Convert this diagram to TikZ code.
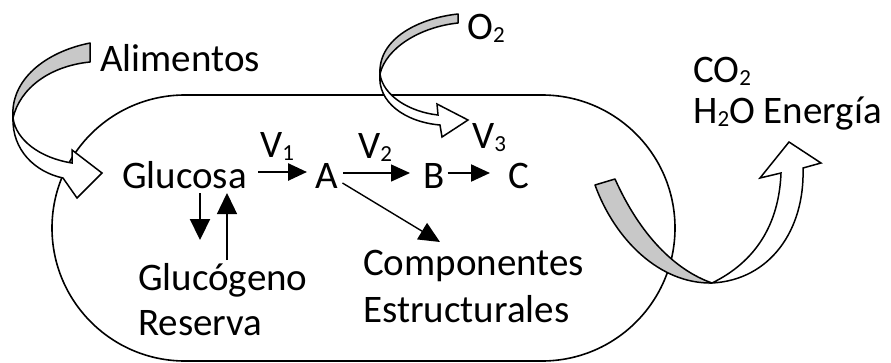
\documentclass[tikz,border=0pt]{standalone}
\usepackage{fontspec}
\setmainfont{Carlito}
\usetikzlibrary{arrows.meta,calc,shapes.misc}
\definecolor{band}{RGB}{200,200,200}
\newcommand\subdig[1]{\raisebox{-3.5pt}{\fontsize{23}{23}\selectfont #1}}
\tikzset{
  lbl/.style={anchor=base west,inner sep=0pt,font=\fontsize{39}{47}\selectfont},
  thinarr/.style={line width=1.4pt,-{Triangle[length=19pt,width=17pt]}},
  thickarr/.style={line width=2.6pt,-{Triangle[length=19pt,width=17pt]}},
  vertarr/.style={-{Triangle[length=21pt,width=20pt]}},
  back/.style={fill=band,draw=black,line width=1.5pt,line join=round},
  front/.style={fill=white,draw=black,line width=1.5pt,line join=miter},
}
\begin{document}
\begin{tikzpicture}[x=1pt,y=-1pt]
\useasboundingbox (0,0) rectangle (891,362);
% cell outline
\node[draw,rounded rectangle,minimum width=623pt,minimum height=266pt,inner sep=0pt,line width=1.6pt] (cell) at (363.5,228) {};

% Alimentos block arrow
\draw[back] (90,43) .. controls (45,52) and (10,80) .. (13,118)
  .. controls (20,88) and (50,66) .. (90,62) -- cycle;
\draw[front] (13,118) .. controls (16,140) and (40,158) .. (72,163)
  -- (72,150) -- (102,173) -- (77,198) -- (63,178)
  .. controls (35,172) and (12,150) .. (13,118) -- cycle;

% O2 block arrow
\draw[back] (458,14) .. controls (420,18) and (378,38) .. (380,74)
  .. controls (386,48) and (420,27) .. (458,23) -- cycle;
\draw[front] (380,74) .. controls (383,96) and (410,112) .. (438,115)
  -- (437,104) -- (468,120) -- (442,137) -- (440,125)
  .. controls (405,122) and (377,102) .. (380,74) -- cycle;

% exit block arrow
\draw[back] (595,185) .. controls (615,240) and (660,284) .. (712,283)
  .. controls (675,270) and (640,235) .. (615,179) -- cycle;
\draw[front] (712,283) .. controls (770,280) and (805,230) .. (803,168)
  -- (821,163) -- (789,142) -- (760,178) -- (781,173)
  .. controls (779,225) and (755,262) .. (712,283) -- cycle;

% labels
\node[lbl] (alim) at (100,71) {Alimentos};
\node[lbl] (o2) at (467,39) {O\subdig{2}};
\node[lbl] (gluc) at (122,188) {Glucosa};
\node[lbl] (v1) at (260,157) {V\subdig{1}};
\node[lbl] (A) at (315,188) {A};
\node[lbl] (v2) at (358,158) {V\subdig{2}};
\node[lbl] (B) at (423,188) {B};
\node[lbl] (v3) at (472,148) {V\subdig{3}};
\node[lbl] (C) at (508,188) {C};
\node[lbl] (glucog) at (138,290) {Glucógeno};
\node[lbl] (reserva) at (138,335) {Reserva};
\node[lbl] (comp) at (363,275) {Componentes};
\node[lbl] (estr) at (363,322) {Estructurales};
\node[lbl] (co2) at (693,82) {CO\subdig{2}};
\node[lbl] (h2o) at (693,123) {H\subdig{2}O Energía};

% pathway arrows
\draw[thickarr] ($(gluc.base east)+(11,-16)$) -- ($(A.base west)+(-8,-16)$);
\draw[thinarr] ($(A.base east)+(5.5,-15)$) -- ($(B.base west)+(-13,-15)$);
\draw[thickarr,line width=2.2pt] ($(B.base east)+(3,-15)$) -- ($(C.base west)+(-18,-15)$);
\draw[thinarr,-{Triangle[length=21pt,width=19pt]}] ($(A.base east)+(4.5,-5)$) -- ($(comp.base west)+(77,-33)$);
\draw[vertarr,line width=2.2pt] ($(gluc.base west)+(78,5)$) -- ($(glucog.base west)+(62,-50)$);
\draw[vertarr,line width=1.4pt] ($(glucog.base west)+(89,-30)$) -- ($(gluc.base west)+(105,5)$);
\end{tikzpicture}
\end{document}
